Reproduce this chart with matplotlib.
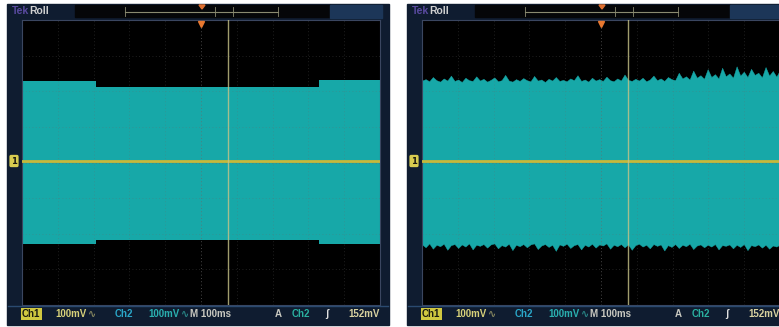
import numpy as np
import matplotlib.pyplot as plt
from matplotlib.patches import Rectangle, Polygon

# -----------------------------------
# DATA (divisions: x 0..10, y -4..4)
# -----------------------------------

# left screen: step envelope of Ch2 burst
left_t = [0.0, 2.07, 2.07, 8.30, 8.30, 10.0]
left_top = [2.29, 2.29, 2.12, 2.12, 2.32, 2.32]
left_bot = [-2.29, -2.29, -2.17, -2.17, -2.29, -2.29]

# right screen: noisy envelope, read every 0.1 div
right_top = [
    2.30, 2.34, 2.28, 2.40, 2.31, 2.27, 2.36, 2.30, 2.44, 2.29,
    2.33, 2.26, 2.38, 2.31, 2.29, 2.42, 2.30, 2.35, 2.27, 2.32,
    2.39, 2.28, 2.31, 2.46, 2.30, 2.27, 2.34, 2.29, 2.37, 2.31,
    2.28, 2.43, 2.30, 2.33, 2.26, 2.35, 2.30, 2.40, 2.29, 2.32,
    2.28, 2.36, 2.31, 2.45, 2.29, 2.33, 2.27, 2.38, 2.30, 2.34,
    2.29, 2.41, 2.31, 2.28, 2.36, 2.30, 2.47, 2.32, 2.29, 2.35,
    2.30, 2.38, 2.28, 2.33, 2.44, 2.31, 2.36, 2.29, 2.40, 2.34,
    2.31, 2.52, 2.36, 2.42, 2.33, 2.58, 2.38, 2.45, 2.35, 2.62,
    2.40, 2.48, 2.36, 2.66, 2.42, 2.50, 2.38, 2.70, 2.44, 2.55,
    2.40, 2.63, 2.46, 2.52, 2.39, 2.68, 2.44, 2.57, 2.41, 2.60,
]
right_bot = [
    -2.30, -2.38, -2.27, -2.42, -2.31, -2.35, -2.28, -2.45, -2.32, -2.29,
    -2.40, -2.30, -2.36, -2.27, -2.44, -2.31, -2.34, -2.29, -2.39, -2.30,
    -2.27, -2.41, -2.32, -2.36, -2.28, -2.46, -2.31, -2.35, -2.29, -2.38,
    -2.30, -2.27, -2.43, -2.33, -2.29, -2.37, -2.31, -2.48, -2.30, -2.34,
    -2.28, -2.40, -2.32, -2.29, -2.44, -2.31, -2.36, -2.28, -2.39, -2.30,
    -2.33, -2.27, -2.42, -2.31, -2.35, -2.29, -2.38, -2.30, -2.45, -2.32,
    -2.28, -2.36, -2.31, -2.41, -2.29, -2.34, -2.30, -2.47, -2.32, -2.37,
    -2.29, -2.40, -2.31, -2.35, -2.28, -2.43, -2.33, -2.30, -2.38, -2.31,
    -2.36, -2.29, -2.44, -2.32, -2.34, -2.30, -2.41, -2.31, -2.37, -2.29,
    -2.46, -2.32, -2.35, -2.30, -2.39, -2.31, -2.42, -2.33, -2.36, -2.30,
]
right_t = np.linspace(0, 10, len(right_top))

ch1_level = 0.04
cursor_t = 5.75
status_items = [
    ("100mV", "#d8d27a"), ("\u223f", "#8a8a60"), ("Ch2", "#2aa6c8"),
    ("100mV", "#2ab0b0"), ("\u223f", "#2a8a8a"), ("M 100ms", "#c8c8c0"),
    ("A", "#c8c8c0"), ("Ch2", "#2ab0a0"), ("\u0283", "#e0e0e0"),
    ("152mV", "#d8d2a0"),
]
status_x = [55, 88, 115, 148, 181, 190, 275, 292, 325, 348]

W, H = 779, 327
CYAN = "#17a8a8"
YEL = "#c8b83a"
NAVY = "#0f1c30"
FONT = ["Liberation Sans", "DejaVu Sans"]

fig = plt.figure(figsize=(W / 100, H / 100), dpi=100)
fig.patch.set_facecolor("white")


def fx(px):
    return px / W


def fy(py):
    return 1 - py / H


def screen(x0, t, top, bot, step):
    # frame
    fig.patches.append(Rectangle((fx(x0 - 15), fy(325)), fx(382), 321 / H,
                                 transform=fig.transFigure, color=NAVY, zorder=0))
    # top bar record box
    fig.patches.append(Rectangle((fx(x0 + 53), fy(17)), fx(255), 12 / H,
                                 transform=fig.transFigure, color="#050608", zorder=1))
    fig.patches.append(Rectangle((fx(x0 + 308), fy(18)), fx(52), 13 / H,
                                 transform=fig.transFigure, color="#1c3658", zorder=1))
    fig.lines.append(plt.Line2D([fx(x0 + 103), fx(x0 + 256)], [fy(12), fy(12)],
                                transform=fig.transFigure, color="#8a8a70", lw=0.8))
    for bx in [103, 193, 211, 256]:
        fig.lines.append(plt.Line2D([fx(x0 + bx)] * 2, [fy(7), fy(16)],
                                    transform=fig.transFigure, color="#8a8a70", lw=0.6))
    fig.patches.append(Polygon([(fx(x0 + 177), fy(5)), (fx(x0 + 183), fy(5)),
                                (fx(x0 + 180), fy(9))],
                               transform=fig.transFigure, color="#e07030", zorder=3))
    fig.text(fx(x0 - 10), fy(11), "Tek", color="#5a4aa0", fontsize=7.5,
             fontweight="bold", va="center", family=FONT)
    fig.text(fx(x0 + 7), fy(11), "Roll", color="#d0d0d0", fontsize=7.5,
             fontweight="bold", va="center", family=FONT)

    ax = fig.add_axes([fx(x0), fy(305), fx(358), 285 / H])
    ax.set_zorder(2)
    ax.set_facecolor("black")
    ax.set_xlim(0, 10)
    ax.set_ylim(-4, 4)
    if step:
        ax.fill_between(t, bot, top, color=CYAN, lw=0, zorder=1)
    else:
        ax.fill_between(t, bot, top, color=CYAN, lw=0.3, edgecolor=CYAN, zorder=1)
    ax.axhline(ch1_level, color=YEL, lw=2.0, zorder=3)
    ax.axvline(cursor_t, color="#c8c488", lw=1.0, alpha=0.8, zorder=4)

    # graticule
    for gx in range(1, 10):
        ax.axvline(gx, color="#6a6a6a", lw=0.6, ls=(0, (1, 3)),
                   alpha=0.4 if gx != 5 else 0.9, zorder=2)
    for gy in range(-3, 4):
        ax.axhline(gy, color="#6a6a6a", lw=0.6, ls=(0, (1, 3)),
                   alpha=0.4 if gy != 0 else 0.9, zorder=2)
    ax.set_xticks([])
    ax.set_yticks([])
    for s in ax.spines.values():
        s.set_color("#3a4660")
        s.set_linewidth(0.8)

    # trigger marker
    ax.plot([5], [3.9], marker="v", color="#e87830", ms=5, zorder=5,
            clip_on=False)

    # channel 1 marker
    fig.text(fx(x0 - 8), fy(161), "1", color="#1a1a10", fontsize=6,
             fontweight="bold", ha="center", va="center", zorder=5,
             bbox=dict(boxstyle="round,pad=0.2", fc="#d8cc50", ec="none"))

    # status bar
    fig.lines.append(plt.Line2D([fx(x0 - 14), fx(x0 + 366)], [fy(306), fy(306)],
                                transform=fig.transFigure, color="#2a4a70", lw=1))
    fig.text(fx(x0), fy(314), "Ch1", color="#1a1a10", fontsize=7,
             fontweight="bold", va="center", family=FONT,
             bbox=dict(boxstyle="square,pad=0.12", fc="#d0c840", ec="none"))
    for (txt, col), sx in zip(status_items, status_x):
        fig.text(fx(x0 + sx - 22), fy(314), txt, color=col, fontsize=7,
                 fontweight="bold", va="center", family=FONT)
    return ax


screen(22, left_t, left_top, left_bot, True)
screen(422, right_t, right_top, right_bot, False)

plt.savefig("out.png", dpi=100, facecolor="white")
